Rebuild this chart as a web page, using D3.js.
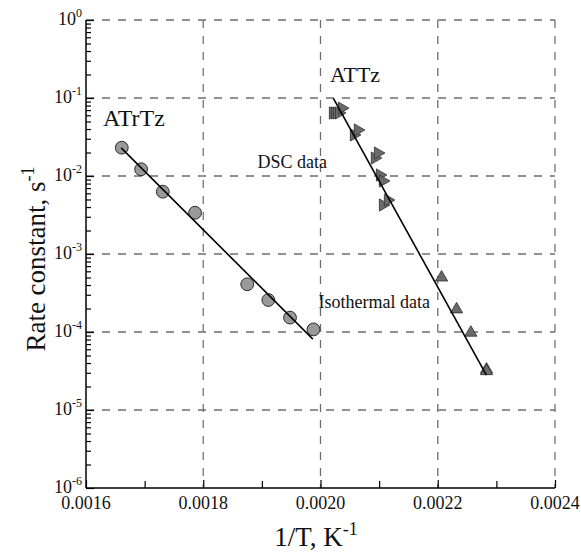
<!DOCTYPE html>
<html>
<head>
<meta charset="utf-8">
<script src="https://cdn.jsdelivr.net/npm/d3@7"></script>
<style>
  html, body { margin: 0; padding: 0; background: #fff; }
  svg { display: block; }
  svg text { font-family: "Liberation Serif", "Times New Roman", Times, serif; }
</style>
</head>
<body>
<svg id="chart" width="581" height="552"></svg>
<script>
// ATrTz rate constants (circles)
const atrtzInvT = [0.001661, 0.001694, 0.001731, 0.001786, 0.001875, 0.001911, 0.001948, 0.001988];
const atrtzK    = [0.0231, 0.0122, 0.00629, 0.00338, 0.000409, 0.000257, 0.000153, 0.000108];

// ATTz DSC data (right-pointing triangles)
const dscInvT = [0.0020211, 0.0020245, 0.0020279, 0.0020314, 0.0020365,
                 0.0020569, 0.0020637, 0.0020927, 0.0020979,
                 0.0021013, 0.0021064, 0.0021064, 0.0021149];
const dscK    = [0.0643, 0.0643, 0.0643, 0.0643, 0.0741,
                 0.0336, 0.0389, 0.0170, 0.0197,
                 0.0103, 0.00863, 0.00425, 0.00492];

// ATTz isothermal data (up triangles)
const isoInvT = [0.0022065, 0.0022321, 0.0022565, 0.0022832, 0.0022832];
const isoK    = [5.0e-4, 1.95e-4, 9.8e-5, 3.3e-5, 3.15e-5];

// Arrhenius fit lines (end points)
const atrtzFitInvT = [0.00166, 0.001987];
const atrtzFitK    = [0.0229, 8.1e-5];
const attzFitInvT  = [0.002022, 0.002283];
const attzFitK     = [0.099, 2.8e-5];

// Axis ticks
const xMajorTicks = [0.0016, 0.0018, 0.0020, 0.0022, 0.0024];
const xTickLabels = ["0.0016", "0.0018", "0.0020", "0.0022", "0.0024"];
const xMinorTicks = [0.0017, 0.0019, 0.0021, 0.0023];
const yDecades    = [1e-6, 1e-5, 1e-4, 1e-3, 1e-2, 1e-1, 1e0];
const yExponents  = ["-6", "-5", "-4", "-3", "-2", "-1", "0"];

const FONT = '"Liberation Serif", "Times New Roman", Times, serif';
const svg = d3.select("#chart");
const plotL = 86, plotT = 20, plotR = 555, plotB = 488;

const x = d3.scaleLinear().domain([0.0016, 0.0024]).range([plotL, plotR]);
const y = d3.scaleLog().domain([1e-6, 1]).range([plotB, plotT]);

// dashed grid
const grid = svg.append("g")
  .attr("stroke", "#6e6e6e").attr("stroke-width", 1.3)
  .attr("stroke-dasharray", "8,8").attr("fill", "none");
grid.selectAll("line.gx").data(xMajorTicks.slice(1)).join("line")
  .attr("class", "gx")
  .attr("x1", d => x(d)).attr("x2", d => x(d))
  .attr("y1", plotT).attr("y2", plotB);
grid.selectAll("line.gy").data(yDecades.slice(1)).join("line")
  .attr("class", "gy")
  .attr("x1", plotL).attr("x2", plotR)
  .attr("y1", d => y(d)).attr("y2", d => y(d));

// axes (ticks inward)
const yMinor = [];
yDecades.slice(0, -1).forEach(d => { for (let m = 2; m <= 9; m++) yMinor.push(d * m); });

const xAxis = d3.axisBottom(x).tickValues(xMajorTicks).tickSize(-8).tickFormat("");
const xAxisMinor = d3.axisBottom(x).tickValues(xMinorTicks).tickSize(-7).tickFormat("");
const yAxis = d3.axisLeft(y).tickValues(yDecades).tickSize(-8).tickFormat("");
const yAxisMinor = d3.axisLeft(y).tickValues(yMinor).tickSize(-5).tickFormat("");

function styleAxis(g) {
  g.selectAll("path").attr("stroke", "#000").attr("stroke-width", 1.5);
  g.selectAll("line").attr("stroke", "#000").attr("stroke-width", 1.2);
}
svg.append("g").attr("transform", `translate(0,${plotB})`).call(xAxis).call(styleAxis)
  .select(".domain").attr("d", `M${plotL},0H${plotR}`);
svg.append("g").attr("transform", `translate(0,${plotB})`).call(xAxisMinor).call(styleAxis)
  .select(".domain").remove();
svg.append("g").attr("transform", `translate(${plotL},0)`).call(yAxis).call(styleAxis)
  .select(".domain").attr("d", `M0,${plotT}V${plotB}`);
svg.append("g").attr("transform", `translate(${plotL},0)`).call(yAxisMinor).call(styleAxis)
  .select(".domain").remove();

// x tick labels
svg.append("g").selectAll("text").data(xMajorTicks).join("text")
  .attr("x", d => x(d)).attr("y", plotB + 21)
  .attr("text-anchor", "middle").attr("font-family", FONT)
  .attr("font-size", 18).attr("fill", "#111")
  .text((d, i) => xTickLabels[i]);

// y tick labels 10^n
const yl = svg.append("g").selectAll("text").data(yDecades).join("text")
  .attr("x", plotL - 4).attr("y", d => y(d) + 5)
  .attr("text-anchor", "end").attr("font-family", FONT)
  .attr("font-size", 18).attr("fill", "#111");
yl.append("tspan").text("10");
yl.append("tspan").attr("dy", -8).attr("font-size", 12).text((d, i) => yExponents[i]);

// markers
const circles = atrtzInvT.map((v, i) => [v, atrtzK[i]]);
svg.append("g").selectAll("circle").data(circles).join("circle")
  .attr("cx", d => x(d[0])).attr("cy", d => y(d[1])).attr("r", 6.4)
  .attr("fill", "#999").attr("stroke", "#2a2a2a").attr("stroke-width", 1);

const tri = d3.symbol().type(d3.symbolTriangle).size(64);
const dsc = dscInvT.map((v, i) => [v, dscK[i]]);
svg.append("g").selectAll("path").data(dsc).join("path")
  .attr("d", tri)
  .attr("transform", d => `translate(${x(d[0])},${y(d[1])}) rotate(90)`)
  .attr("fill", "#6a6a6a").attr("stroke", "#3a3a3a").attr("stroke-width", 0.9);

const iso = isoInvT.map((v, i) => [v, isoK[i]]);
svg.append("g").selectAll("path").data(iso).join("path")
  .attr("d", tri)
  .attr("transform", d => `translate(${x(d[0])},${y(d[1])})`)
  .attr("fill", "#6a6a6a").attr("stroke", "#3a3a3a").attr("stroke-width", 0.9);

// fit lines
const line = d3.line().x(d => x(d[0])).y(d => y(d[1]));
[[atrtzFitInvT, atrtzFitK], [attzFitInvT, attzFitK]].forEach(([xs, ks]) => {
  svg.append("path")
    .attr("d", line(xs.map((v, i) => [v, ks[i]])))
    .attr("fill", "none").attr("stroke", "#000").attr("stroke-width", 1.6);
});

// annotations
const ann = [
  { t: "ATrTz", x: 103, y: 126, s: 24, a: "start" },
  { t: "ATTz", x: 330, y: 82, s: 22, a: "start" },
  { t: "DSC data", x: 327, y: 168, s: 18, a: "end" },
  { t: "Isothermal data", x: 430, y: 308, s: 18, a: "end" }
];
svg.append("g").selectAll("text").data(ann).join("text")
  .attr("x", d => d.x).attr("y", d => d.y)
  .attr("font-family", FONT).attr("font-size", d => d.s)
  .attr("text-anchor", d => d.a)
  .attr("fill", "#111").text(d => d.t);

// axis titles
const xt = svg.append("text").attr("x", 316).attr("y", 546)
  .attr("text-anchor", "middle").attr("font-family", FONT)
  .attr("font-size", 27).attr("fill", "#111");
xt.append("tspan").text("1/T, K");
xt.append("tspan").attr("dy", -11).attr("font-size", 18).text("-1");

const yt = svg.append("text")
  .attr("transform", "translate(45,259) rotate(-90)")
  .attr("text-anchor", "middle").attr("font-family", FONT)
  .attr("font-size", 27).attr("fill", "#111");
yt.append("tspan").text("Rate constant, s");
yt.append("tspan").attr("dy", -11).attr("font-size", 18).text("-1");
</script>
</body>
</html>
